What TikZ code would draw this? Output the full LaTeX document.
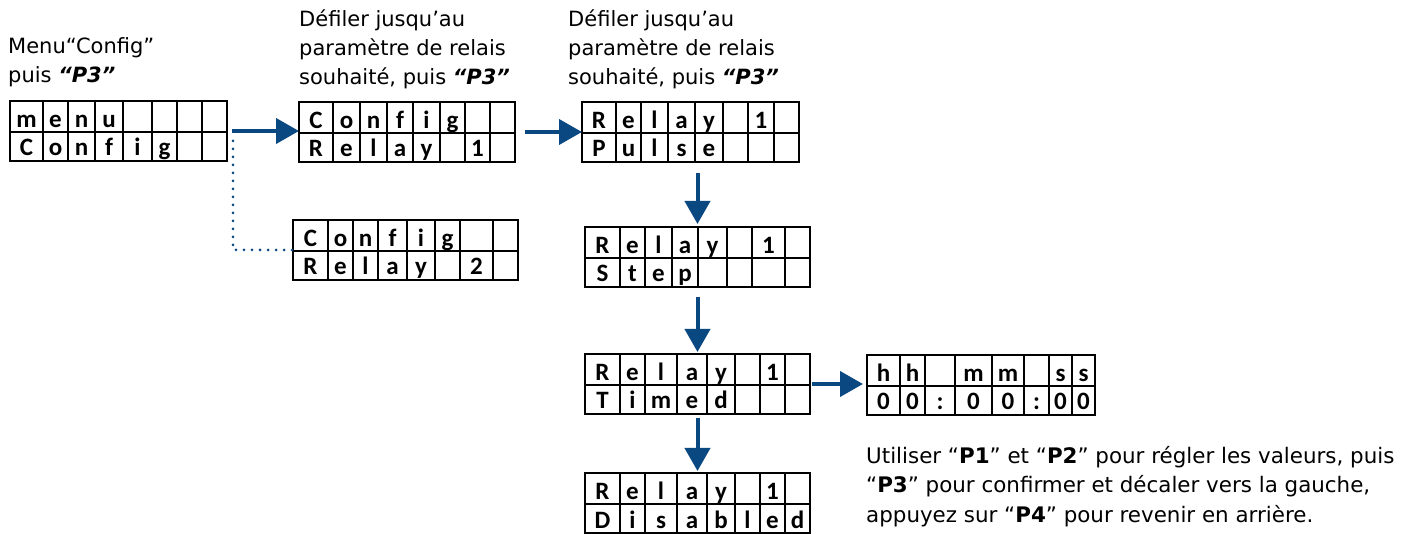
\documentclass[tikz,border=0pt]{standalone}
\usepackage{fontspec}
\setmainfont{DejaVu Sans}
\newfontfamily\cellfont{Carlito}
\usetikzlibrary{arrows.meta}
\definecolor{arrowblue}{RGB}{10,72,130}
\tikzset{
 lcdframe/.style={draw=black, line width=1.8pt, minimum height=60pt, inner sep=0pt, outer sep=0pt},
 lcdline/.style={draw=black, line width=1.8pt},
 cell/.style={anchor=base, inner sep=0pt, font=\cellfont\bfseries\fontsize{25}{25}\selectfont},
 note/.style={anchor=north west, inner sep=0pt, align=left, font=\fontsize{21}{29}\selectfont},
 flow/.style={draw=arrowblue, line width=4pt, -{Triangle[length=23pt,width=25pt]}},
 link/.style={draw=arrowblue, line width=3pt, line cap=round, dash pattern=on 0pt off 8pt},
}
% #1 name, #2 x, #3 y (top), #4 width, #5 cells: left/right/top letter/bottom letter
\newcommand\lcd[5]{%
  \node[lcdframe, minimum width=#4pt, anchor=north west] (#1) at (#2,#3) {};
  \draw[lcdline] (#2,#3+31) -- (#2+#4,#3+31);
  \foreach \l/\r/\t/\b [count=\i] in {#5} {
    \draw[lcdline] (#2+\l,#3) -- (#2+\l,#3+60);
    \node[cell] (#1-t\i) at (#2+\l/2+\r/2, #3+26.5) {\t};
    \node[cell] (#1-b\i) at (#2+\l/2+\r/2, #3+55) {\b};
  }%
}
\begin{document}
\begin{tikzpicture}[x=1pt,y=-1pt]
\useasboundingbox (0,0) rectangle (1409,534);

\lcd{d1}{10}{101}{217}{0/33/m/C, 33/58/e/o, 58/85/n/n, 85/113/u/f, 113/142/{}/i, 142/167/{}/g, 167/192/{}/{}, 192/217/{}/{}}
\lcd{d2}{299}{102}{216}{0/34/C/R, 34/61/o/e, 61/88/n/l, 88/114/f/a, 114/141/i/y, 141/166/g/{}, 166/191/{}/1, 191/216/{}/{}}
\lcd{d3}{582}{102}{217}{0/34/R/P, 34/59/e/u, 59/86/l/l, 86/113/a/s, 113/141/y/e, 141/166/{}/{}, 166/192/1/{}, 192/217/{}/{}}
\lcd{d4}{293}{220}{225}{0/35/C/R, 35/60/o/e, 60/85/n/l, 85/114/f/a, 114/142/i/y, 142/167/g/{}, 167/200/{}/2, 200/225/{}/{}}
\lcd{d5}{585}{227}{225}{0/35/R/S, 35/60/e/t, 60/87/l/e, 87/113/a/p, 113/142/y/{}, 142/167/{}/{}, 167/200/1/{}, 200/225/{}/{}}
\lcd{d6}{585}{354}{225}{0/35/R/T, 35/60/e/i, 60/92/l/m, 92/122/a/e, 122/150/y/d, 150/175/{}/{}, 175/200/1/{}, 200/225/{}/{}}
\lcd{d7}{867}{355}{228}{0/33/h/0, 33/58/h/0, 58/88/{}/:, 88/125/m/0, 125/157/m/0, 157/182/{}/:, 182/205/s/0, 205/228/s/0}
\lcd{d8}{585}{473}{225}{0/35/R/D, 35/60/e/i, 60/92/l/s, 92/122/a/a, 122/150/y/b, 150/175/{}/l, 175/200/1/e, 200/225/{}/d}

\draw[flow, shorten <=5pt] (d1.east) -- (d1.east -| d2.west);
\draw[flow, shorten <=10pt] (d2.east) -- (d3.west);
\draw[flow, shorten <=11pt, shorten >=3pt] (d3.south -| d5.north) -- (d5.north);
\draw[flow, shorten <=10pt, shorten >=2pt] (d5.south) -- (d6.north);
\draw[flow, shorten <=4pt, shorten >=2pt] (d6.south) -- (d8.north);
\draw[flow, shorten <=2pt, shorten >=4pt] (d6.east) -- (d6.east -| d7.west);
\draw[link] ([xshift=6pt,yshift=-10pt]d1.east) |- (d4.west);

\node[note] (t1) at (8,37) {Menu“Config”\\puis \textbf{\textit{“P3”}}};
\node[note] (t2) at (299,10) {Défiler jusqu’au\\paramètre de relais\\souhaité, puis \textbf{\textit{“P3”}}};
\node[note] (t3) at (568,10) {Défiler jusqu’au\\paramètre de relais\\souhaité, puis \textbf{\textit{“P3”}}};
\node[note, font=\fontsize{21.4}{29.5}\selectfont] (t4) at (866,446) {Utiliser “\textbf{P1}” et “\textbf{P2}” pour régler les valeurs, puis\\“\textbf{P3}” pour confirmer et décaler vers la gauche,\\appuyez sur “\textbf{P4}” pour revenir en arrière.};
\end{tikzpicture}
\end{document}
